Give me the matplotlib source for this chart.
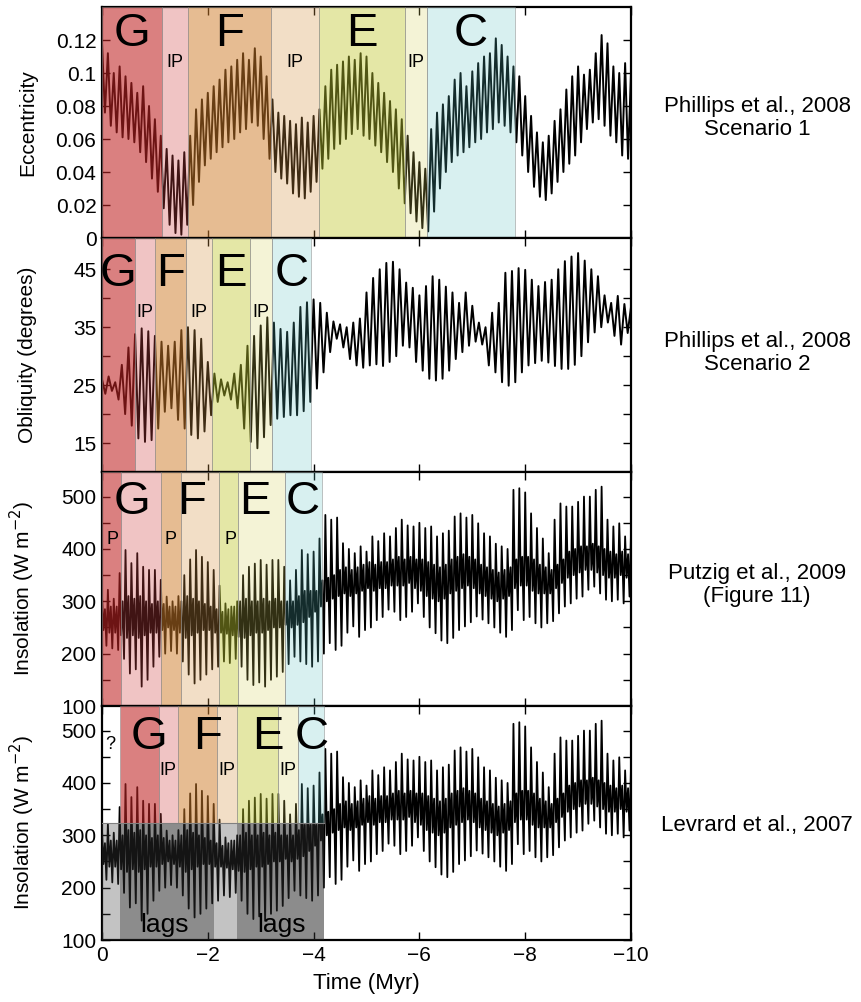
import numpy as np
import matplotlib
matplotlib.use("Agg")
import matplotlib.pyplot as plt

plt.rcParams['font.family'] = ['Liberation Sans', 'DejaVu Sans']

# ---------------- data ----------------
# Eccentricity: successive cycle maxima / minima, 9 cycles per Myr, from 0 to -10 Myr
ecc_peaks = [
    0.118, 0.112, 0.100, 0.104, 0.098, 0.094, 0.088, 0.092, 0.080,
    0.072, 0.062, 0.054, 0.050, 0.047, 0.052, 0.062, 0.078, 0.084,
    0.088, 0.092, 0.096, 0.102, 0.104, 0.108, 0.112, 0.108, 0.115,
    0.110, 0.098, 0.084, 0.076, 0.074, 0.071, 0.069, 0.073, 0.070,
    0.074, 0.078, 0.092, 0.102, 0.105, 0.107, 0.110, 0.108, 0.112,
    0.110, 0.100, 0.094, 0.088, 0.083, 0.078, 0.072, 0.062, 0.052,
    0.046, 0.042, 0.066, 0.076, 0.081, 0.086, 0.096, 0.100, 0.092,
    0.101, 0.106, 0.110, 0.112, 0.121, 0.117, 0.110, 0.104, 0.098,
    0.086, 0.074, 0.064, 0.058, 0.062, 0.071, 0.078, 0.090, 0.098,
    0.104, 0.099, 0.102, 0.112, 0.123, 0.118, 0.104, 0.100, 0.106, 0.100]
ecc_troughs = [
    0.076, 0.068, 0.064, 0.061, 0.060, 0.058, 0.052, 0.046, 0.036,
    0.028, 0.018, 0.008, 0.003, 0.002, 0.008, 0.020, 0.034, 0.044,
    0.048, 0.052, 0.055, 0.058, 0.060, 0.064, 0.066, 0.070, 0.068,
    0.060, 0.048, 0.040, 0.036, 0.033, 0.027, 0.025, 0.024, 0.028,
    0.034, 0.042, 0.048, 0.054, 0.057, 0.060, 0.063, 0.066, 0.062,
    0.060, 0.056, 0.052, 0.046, 0.040, 0.030, 0.021, 0.015, 0.010,
    0.006, 0.004, 0.016, 0.030, 0.040, 0.046, 0.050, 0.052, 0.055,
    0.058, 0.060, 0.064, 0.066, 0.070, 0.068, 0.064, 0.058, 0.050,
    0.040, 0.031, 0.025, 0.023, 0.027, 0.034, 0.040, 0.045, 0.050,
    0.058, 0.066, 0.070, 0.072, 0.068, 0.062, 0.058, 0.050, 0.048]

# Obliquity (degrees): cycle maxima / minima, 8 cycles per Myr
obl_peaks = [
    26.0, 26.5, 25.5, 28.5, 31.5, 33.8, 34.8, 34.3,
    33.5, 32.5, 31.8, 32.5, 34.5, 35.0, 34.5, 33.0,
    29.0, 27.0, 26.0, 25.5, 27.0, 28.5, 31.8, 33.5,
    35.3, 36.7, 35.8, 34.7, 34.2, 35.8, 38.5, 39.3,
    39.8, 39.2, 37.5, 36.0, 35.5, 35.0, 35.8, 36.5,
    41.0, 43.5, 45.0, 46.1, 46.3, 45.0, 42.7, 41.8,
    40.5, 42.1, 43.8, 43.2, 42.0, 41.0, 39.2, 41.0,
    38.7, 35.8, 35.0, 37.5, 39.2, 44.4, 44.7, 45.2,
    44.9, 43.2, 42.1, 42.8, 43.2, 45.0, 46.4, 47.2,
    47.8, 46.5, 45.0, 43.8, 40.5, 39.2, 40.4, 39.0, 38.5]
obl_troughs = [
    23.5, 24.0, 22.5, 20.0, 18.0, 15.8, 15.2, 15.5,
    17.5, 20.4, 21.0, 19.0, 17.5, 16.4, 15.8, 17.0,
    19.8, 22.1, 23.2, 22.5, 21.0, 17.5, 15.2, 14.1,
    16.0, 18.1, 19.2, 19.5, 19.8, 19.8, 20.5, 22.1,
    24.4, 27.2, 30.7, 33.0, 31.5, 29.5, 28.4, 28.0,
    28.4, 28.6, 28.3, 29.0, 30.0, 31.8, 31.5, 29.0,
    27.5, 26.1, 25.8, 26.1, 27.5, 29.5, 30.7, 31.8,
    32.5, 32.0, 28.4, 27.2, 25.5, 24.9, 25.5, 27.2,
    28.4, 28.8, 29.2, 28.9, 28.3, 27.8, 27.8, 28.5,
    30.0, 32.4, 34.1, 35.0, 35.8, 33.5, 32.0, 34.0]

# Insolation (W m-2): per cycle (9 per Myr) big max, band low, band high, big min
ins_max = [
    310, 322, 305, 354, 398, 373, 392, 366, 360,
    360, 341, 309, 300, 310, 350, 380, 398, 385,
    375, 360, 330, 296, 290, 300, 350, 366, 372,
    379, 370, 379, 379, 366, 340, 360, 398, 390,
    395, 420, 465, 456, 460, 411, 400, 392, 405,
    395, 424, 415, 430, 424, 440, 456, 445, 443,
    450, 440, 443, 424, 430, 435, 462, 468, 460,
    465, 449, 430, 424, 410, 405, 400, 513, 516,
    508, 468, 440, 420, 392, 456, 487, 481, 481,
    490, 500, 500, 513, 519, 456, 443, 449, 424, 430]
ins_band_lo = [
    245, 240, 240, 235, 230, 235, 230, 235, 240,
    240, 245, 250, 245, 240, 230, 235, 240, 245,
    245, 240, 240, 238, 235, 232, 230, 235, 240,
    240, 245, 250, 250, 255, 250, 255, 260, 270,
    280, 290, 300, 305, 310, 315, 310, 315, 320,
    325, 320, 325, 325, 330, 330, 330, 335, 325,
    320, 310, 305, 300, 305, 315, 320, 325, 330,
    325, 315, 310, 305, 300, 305, 310, 325, 330,
    330, 320, 315, 315, 315, 325, 335, 345, 350,
    355, 360, 360, 355, 350, 345, 345, 350, 345]
ins_band_hi = [
    285, 290, 290, 300, 310, 305, 310, 300, 295,
    300, 295, 290, 290, 300, 310, 305, 300, 295,
    290, 285, 280, 285, 290, 300, 305, 300, 300,
    305, 300, 305, 300, 300, 300, 310, 320, 320,
    320, 340, 345, 350, 360, 365, 360, 365, 370,
    375, 370, 375, 375, 380, 385, 380, 385, 380,
    380, 375, 370, 365, 370, 380, 385, 390, 385,
    380, 370, 365, 360, 355, 360, 365, 380, 385,
    385, 380, 370, 365, 360, 370, 380, 395, 400,
    405, 405, 410, 405, 400, 395, 390, 395, 390]
ins_min = [
    215, 210, 207, 190, 162, 170, 137, 150, 175,
    194, 200, 205, 200, 185, 160, 143, 150, 160,
    170, 175, 185, 182, 190, 175, 150, 140, 145,
    137, 150, 156, 165, 180, 194, 185, 180, 175,
    185, 200, 220, 207, 215, 240, 252, 232, 245,
    250, 264, 270, 284, 280, 264, 270, 280, 296,
    270, 250, 239, 225, 220, 230, 245, 252, 260,
    271, 265, 258, 250, 240, 232, 245, 283, 264,
    270, 258, 250, 258, 262, 277, 290, 296, 305,
    309, 322, 328, 315, 303, 300, 303, 296, 309]

# Stratigraphic unit intervals (Myr ago, negative = past)
units1 = [("G", 0.0, -1.13), ("IP", -1.13, -1.62), ("F", -1.62, -3.19), ("IP", -3.19, -4.10),
          ("E", -4.10, -5.73), ("IP", -5.73, -6.14), ("C", -6.14, -7.80)]
units2 = [("G", 0.0, -0.62), ("IP", -0.62, -1.0), ("F", -1.0, -1.58), ("IP", -1.58, -2.07),
          ("E", -2.07, -2.80), ("IP", -2.80, -3.22), ("C", -3.22, -3.96)]
units3 = [("P", 0.0, -0.35), ("G", -0.35, -1.12), ("P", -1.12, -1.49), ("F", -1.49, -2.22),
          ("P", -2.22, -2.58), ("E", -2.58, -3.46), ("C", -3.46, -4.15)]
units4 = [("G", -0.34, -1.08), ("IP", -1.08, -1.43), ("F", -1.43, -2.17), ("IP", -2.17, -2.55),
          ("E", -2.55, -3.32), ("IP", -3.32, -3.70), ("C", -3.70, -4.19)]
lags4 = [("light", 0.0, -0.34), ("dark", -0.34, -2.12), ("light", -2.12, -2.56), ("dark", -2.56, -4.19)]

# displayed background colours of the shaded units (RGB 0-255)
unit_bg = [(218, 128, 128), (240, 196, 196), (230, 188, 146), (242, 222, 198),
           (228, 232, 166), (245, 243, 214), (216, 240, 240)]
grey_bg = {"light": (195, 195, 195), "dark": (140, 140, 140)}

def overlay(bg):
    """colour + alpha that give background bg over white and a dark tint over the black curve"""
    bg = np.array(bg, float)
    a = min(1.0, 1 - bg.min() / 255 + 0.08)
    c = (bg - (1 - a) * 255) / a / 255
    return tuple(np.clip(c, 0, 1)), a

# ---------------- build series ----------------
def interleave(peaks, troughs):
    vals = np.empty(len(peaks) + len(troughs))
    vals[0::2] = peaks
    vals[1::2] = troughs
    return vals

ecc = interleave(ecc_peaks, ecc_troughs)
t_ecc = -np.arange(len(ecc)) / 18.0
obl = interleave(obl_peaks, obl_troughs)
t_obl = -np.arange(len(obl)) / 16.0
ins = np.append(np.column_stack([ins_max[:-1], ins_band_lo, ins_band_hi, ins_min]).ravel(), ins_max[-1])
t_ins = -np.arange(len(ins)) / 36.0

W, H = 861, 1002
fig = plt.figure(figsize=(W / 100, H / 100), dpi=100)
left, right = 102, 631
bounds = [(7, 238), (238, 472), (472, 706), (706, 940)]
axes = []
for top, bot in bounds:
    ax = fig.add_axes([left / W, 1 - bot / H, (right - left) / W, (bot - top) / H])
    axes.append(ax)

FS = 15
for ax in axes:
    ax.set_xlim(0, -10)
    ax.set_xticks([0, -2, -4, -6, -8, -10])
    ax.tick_params(direction='in', length=6, width=1.0, top=True, right=True,
                   labelsize=FS, pad=4)
    for s in ax.spines.values():
        s.set_linewidth(1.6)

lw = 1.4
# Panel 1
ax = axes[0]
ax.plot(t_ecc, ecc, color='black', lw=lw, zorder=2)
ax.set_ylim(0, 0.14)
ax.set_yticks([0, 0.02, 0.04, 0.06, 0.08, 0.1, 0.12])
ax.set_yticklabels(['0', '0.02', '0.04', '0.06', '0.08', '0.1', '0.12'])
ax.set_ylabel('Eccentricity', fontsize=15)
# Panel 2
ax = axes[1]
ax.plot(t_obl, obl, color='black', lw=lw, zorder=2)
ax.set_ylim(10, 50.4)
ax.set_yticks([15, 20, 25, 30, 35, 40, 45])
ax.set_yticklabels(['15', '', '25', '', '35', '', '45'])
ax.set_ylabel('Obliquity (degrees)', fontsize=15)
# Panels 3, 4
for ax in axes[2:]:
    ax.plot(t_ins, ins, color='black', lw=1.3, zorder=2)
    ax.set_ylim(100, 547)
    ax.set_yticks([100, 150, 200, 250, 300, 350, 400, 450, 500])
    ax.set_yticklabels(['100', '', '200', '', '300', '', '400', '', '500'])
    ax.set_ylabel('Insolation (W m$^{-2}$)', fontsize=15)

for ax in axes:
    ax.yaxis.set_label_coords(-0.122, 0.5)

for ax in axes[:3]:
    ax.set_xticklabels([])
axes[3].set_xticklabels(['0', '\u22122', '\u22124', '\u22126', '\u22128', '\u221210'])
axes[3].set_xlabel('Time (Myr)', fontsize=16, labelpad=6)

EDGE = (0.55, 0.55, 0.55, 0.6)

def shade(ax, a, b, bg, ymin=0.0, ymax=1.0, edge=EDGE):
    c, al = overlay(bg)
    ax.axvspan(b, a, ymin=ymin, ymax=ymax, facecolor=c + (al,),
               edgecolor=edge, lw=0.6, zorder=3)

def draw_units(ax, units, letter_y, ip_y):
    for (name, a, b), bg in zip(units, unit_bg):
        shade(ax, a, b, bg)
        mid = (a + b) / 2
        if name in ("IP", "P"):
            ax.text(mid, ip_y, name, ha='center', va='center', fontsize=13, zorder=5)
        else:
            ax.text(mid, letter_y, name, ha='center', va='center', fontsize=34, zorder=5)

draw_units(axes[0], units1, 0.1235, 0.1065)
draw_units(axes[1], units2, 44.2, 37.6)

# panel 3
ax = axes[2]
for (name, a, b), bg in zip(units3, unit_bg):
    shade(ax, a, b, bg)
letters3 = [("P", -0.2, 419, 13), ("G", -0.56, 490, 34), ("P", -1.30, 419, 13), ("F", -1.70, 490, 34),
            ("P", -2.42, 419, 13), ("E", -2.89, 490, 34), ("C", -3.80, 490, 34)]
for name, x, y, fs in letters3:
    ax.text(x, y, name, ha='center', va='center', fontsize=fs, zorder=5)

# panel 4
ax = axes[3]
frac = (324 - 100) / (547 - 100)
for (name, a, b), bg in zip(units4, unit_bg):
    shade(ax, a, b, bg, ymin=frac, ymax=1)
for kind, a, b in lags4:
    shade(ax, a, b, grey_bg[kind], ymin=0, ymax=frac, edge='none')
ax.axhline(324, xmin=0, xmax=4.19 / 10, color=(0.5, 0.5, 0.5), lw=0.8, zorder=3)
letters4 = [("?", -0.15, 473, 13), ("G", -0.88, 488, 34), ("IP", -1.24, 423, 13), ("F", -2.0, 488, 34),
            ("IP", -2.36, 423, 13), ("E", -3.14, 488, 34), ("IP", -3.51, 423, 13), ("C", -3.96, 488, 34),
            ("lags", -1.19, 128, 19), ("lags", -3.40, 128, 19)]
for name, x, y, fs in letters4:
    ax.text(x, y, name, ha='center', va='center', fontsize=fs, zorder=5)

# right-hand source labels
refs = [("Phillips et al., 2008\nScenario 1", 118), ("Phillips et al., 2008\nScenario 2", 353),
        ("Putzig et al., 2009\n(Figure 11)", 585), ("Levrard et al., 2007", 826)]
for txt, ypx in refs:
    fig.text(757 / W, 1 - ypx / H, txt, ha='center', va='center', fontsize=16, linespacing=1.15)

fig.savefig('out.png', dpi=100)
